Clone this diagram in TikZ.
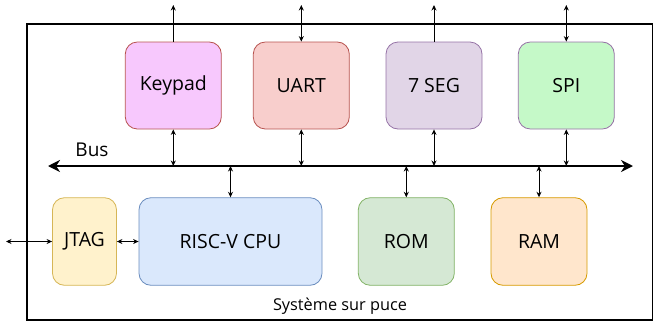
\documentclass[tikz,border=0pt]{standalone}
\usepackage{fontspec}
\setmainfont{Open Sans}
\usetikzlibrary{arrows.meta}
\definecolor{kpfill}{HTML}{F7C8FD}
\definecolor{redline}{HTML}{B85450}
\definecolor{uartfill}{HTML}{F8CECC}
\definecolor{segfill}{HTML}{E1D5E7}
\definecolor{purpleline}{HTML}{9673A6}
\definecolor{spifill}{HTML}{C5F9C8}
\definecolor{jtagfill}{HTML}{FFF2CC}
\definecolor{jtagline}{HTML}{D6B656}
\definecolor{cpufill}{HTML}{DAE8FC}
\definecolor{cpuline}{HTML}{6C8EBF}
\definecolor{romfill}{HTML}{D5E8D4}
\definecolor{romline}{HTML}{82B366}
\definecolor{ramfill}{HTML}{FFE6CC}
\definecolor{ramline}{HTML}{D79B00}
\tikzset{
  block/.style={draw, rounded corners=12pt, line width=0.8pt, inner sep=0pt,
    font=\fontsize{19.5}{22}\selectfont, text=black},
  link/.style={line width=0.9pt, {Stealth[length=5.5pt,width=5pt]}-{Stealth[length=5.5pt,width=5pt]}},
  pinout/.style={line width=0.9pt, -{Stealth[length=5.5pt,width=5pt]}},
  busline/.style={line width=2.6pt, {Stealth[length=12pt,width=12pt]}-{Stealth[length=12pt,width=12pt]}},
}
\begin{document}
\begin{tikzpicture}[x=1pt,y=-1pt]
\useasboundingbox (0,0) rectangle (654,322);
% chip outline
\draw[line width=1.8pt] (27,24) rectangle (652.5,320);
\node[font=\fontsize{16.3}{18}\selectfont] (soc) at (340,306) {Système sur puce};
% peripherals on top row
\node[block, fill=kpfill, draw=redline, minimum width=96pt, minimum height=87pt] (kp) at (173.3,85.5) {Keypad};
\node[block, fill=uartfill, draw=redline, minimum width=96pt, minimum height=87pt] (uart) at (301.3,85.5) {UART};
\node[block, fill=segfill, draw=purpleline, minimum width=96pt, minimum height=87pt] (seg) at (434,85.5) {7 SEG};
\node[block, fill=spifill, draw=purpleline, minimum width=96pt, minimum height=87pt] (spi) at (566.3,85.5) {SPI};
% bottom row
\node[block, fill=jtagfill, draw=jtagline, minimum width=64pt, minimum height=87.6pt] (jtag) at (84.5,241.5) {JTAG};
\node[block, fill=cpufill, draw=cpuline, minimum width=183pt, minimum height=87.6pt] (cpu) at (230.5,241.5) {RISC-V CPU};
\node[block, fill=romfill, draw=romline, minimum width=96pt, minimum height=87.6pt] (rom) at (406.3,241.5) {ROM};
\node[block, fill=ramfill, draw=ramline, minimum width=96pt, minimum height=87.6pt] (ram) at (539,241.5) {RAM};
% bus
\coordinate (busL) at (48,166);
\coordinate (busR) at (633,166);
\draw[busline] (busL) -- (busR);
\node[font=\fontsize{19}{21}\selectfont, anchor=center] (buslabel) at (92,150) {Bus};
% external pins
\coordinate (kpx) at (173.3,5);
\coordinate (uartx) at (301.3,5);
\coordinate (segx) at (434,5);
\coordinate (spix) at (566.3,5);
\coordinate (jtagx) at (6,241.5);
\draw[pinout] (kp.north) -- (kpx);
\draw[link] (uart.north) -- (uartx);
\draw[pinout] (seg.north) -- (segx);
\draw[link] (spi.north) -- (spix);
\draw[link] (jtagx) -- (jtag.west);
\draw[link] (jtag.east) -- (cpu.west);
% bus taps
\draw[link] (kp.south) -- (kp.south |- busL);
\draw[link] (uart.south) -- (uart.south |- busL);
\draw[link] (seg.south) -- (seg.south |- busL);
\draw[link] (spi.south) -- (spi.south |- busL);
\draw[link] (cpu.north) -- (cpu.north |- busL);
\draw[link] (rom.north) -- (rom.north |- busL);
\draw[link] (ram.north) -- (ram.north |- busL);
\end{tikzpicture}
\end{document}
